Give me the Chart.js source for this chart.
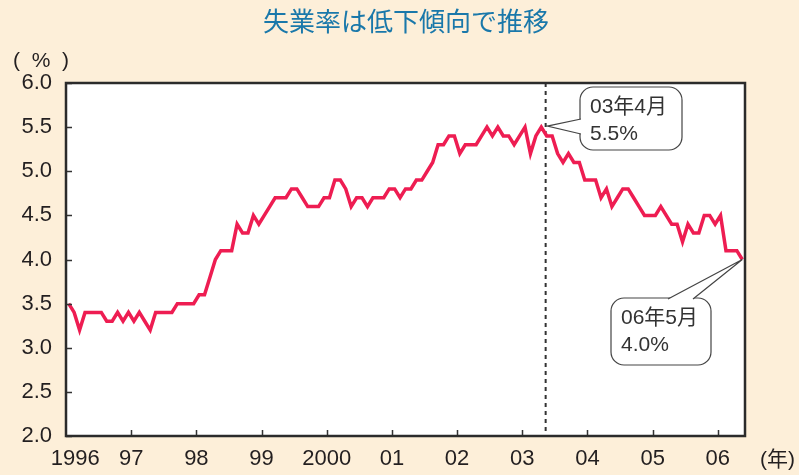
<!DOCTYPE html>
<html>
<head>
<meta charset="utf-8">
<script src="https://cdn.jsdelivr.net/npm/chart.js@4.4.0/dist/chart.umd.min.js"></script>
<style>
html, body { margin: 0; padding: 0; background: #fdefd9; }
#wrap { width: 799px; height: 475px; }
</style>
</head>
<body>
<div id="wrap"><canvas id="myChart" width="799" height="475"></canvas></div>
<script>
// 完全失業率（季節調整値）1996年1月〜2006年5月, 月次
var yearLabels = ['1996', '97', '98', '99', '2000', '01', '02', '03', '04', '05', '06'];
var rates = [
    3.5, 3.4, 3.2, 3.4, 3.4, 3.4, 3.4, 3.3, 3.3, 3.4, 3.3, 3.4,   // 1996
    3.3, 3.4, 3.3, 3.2, 3.4, 3.4, 3.4, 3.4, 3.5, 3.5, 3.5, 3.5,   // 97
    3.6, 3.6, 3.8, 4.0, 4.1, 4.1, 4.1, 4.4, 4.3, 4.3, 4.5, 4.4,   // 98
    4.5, 4.6, 4.7, 4.7, 4.7, 4.8, 4.8, 4.7, 4.6, 4.6, 4.6, 4.7,   // 99
    4.7, 4.9, 4.9, 4.8, 4.6, 4.7, 4.7, 4.6, 4.7, 4.7, 4.7, 4.8,   // 2000
    4.8, 4.7, 4.8, 4.8, 4.9, 4.9, 5.0, 5.1, 5.3, 5.3, 5.4, 5.4,   // 01
    5.2, 5.3, 5.3, 5.3, 5.4, 5.5, 5.4, 5.5, 5.4, 5.4, 5.3, 5.4,   // 02
    5.5, 5.2, 5.4, 5.5, 5.4, 5.4, 5.2, 5.1, 5.2, 5.1, 5.1, 4.9,   // 03
    4.9, 4.9, 4.7, 4.8, 4.6, 4.7, 4.8, 4.8, 4.7, 4.6, 4.5, 4.5,   // 04
    4.5, 4.6, 4.5, 4.4, 4.4, 4.2, 4.4, 4.3, 4.3, 4.5, 4.5, 4.4,   // 05
    4.5, 4.1, 4.1, 4.1, 4.0                                       // 06
];
var yTicks = [2.0, 2.5, 3.0, 3.5, 4.0, 4.5, 5.0, 5.5, 6.0];
var peakIdx = 87;        // 03年4月
var peakText = ['03年4月', '5.5%'];
var lastIdx = 124;       // 06年5月
var lastText = ['06年5月', '4.0%'];
var markerMonth = 88.3;  // 点線の位置（月）

var FONT = "'Liberation Sans', Arial, 'Noto Sans CJK JP', sans-serif";
var INK = '#231f20';

var points = rates.map(function (v, i) { return { x: i + 0.5, y: v }; });

function callout(ctx, box, base, tip, lines) {
    ctx.save();
    ctx.beginPath();
    ctx.roundRect(box.x, box.y, box.w, box.h, 13);
    ctx.fillStyle = '#fff';
    ctx.fill();
    ctx.strokeStyle = '#444';
    ctx.lineWidth = 1.2;
    ctx.stroke();
    // 吹き出しの三角
    ctx.beginPath();
    ctx.moveTo(base[0][0], base[0][1]);
    ctx.lineTo(tip[0], tip[1]);
    ctx.lineTo(base[1][0], base[1][1]);
    ctx.closePath();
    ctx.fillStyle = '#fff';
    ctx.fill();
    ctx.beginPath();
    ctx.moveTo(base[0][0], base[0][1]);
    ctx.lineTo(tip[0], tip[1]);
    ctx.lineTo(base[1][0], base[1][1]);
    ctx.stroke();
    ctx.fillStyle = '#333';
    ctx.font = '21px ' + FONT;
    ctx.textAlign = 'left';
    ctx.textBaseline = 'middle';
    ctx.fillText(lines[0], box.x + 10, box.y + 20);
    ctx.fillText(lines[1], box.x + 10, box.y + 47);
    ctx.restore();
}

var decor = {
    id: 'decor',
    beforeDraw: function (chart) {
        var ctx = chart.ctx, a = chart.chartArea;
        ctx.save();
        ctx.fillStyle = '#fdefd9';
        ctx.fillRect(0, 0, chart.width, chart.height);
        ctx.fillStyle = '#fff';
        ctx.fillRect(a.left, a.top, a.right - a.left, a.bottom - a.top);
        ctx.restore();
    },
    beforeDatasetsDraw: function (chart) {
        var ctx = chart.ctx, a = chart.chartArea;
        var x = chart.scales.x.getPixelForValue(markerMonth);
        ctx.save();
        ctx.strokeStyle = '#333';
        ctx.lineWidth = 2;
        ctx.setLineDash([4, 4]);
        ctx.beginPath();
        ctx.moveTo(x, a.top);
        ctx.lineTo(x, a.bottom);
        ctx.stroke();
        ctx.restore();
    },
    afterDraw: function (chart) {
        var ctx = chart.ctx, a = chart.chartArea;
        var xs = chart.scales.x, ys = chart.scales.y;
        ctx.save();
        // 内向きの目盛
        ctx.strokeStyle = '#333';
        ctx.lineWidth = 1.5;
        ctx.beginPath();
        yTicks.forEach(function (v) {
            var y = Math.round(ys.getPixelForValue(v)) + 0.5;
            ctx.moveTo(a.left, y);
            ctx.lineTo(a.left + 6, y);
        });
        for (var m = 12; m < yearLabels.length * 12; m += 12) {
            var x = Math.round(xs.getPixelForValue(m)) + 0.5;
            ctx.moveTo(x, a.bottom);
            ctx.lineTo(x, a.bottom - 6);
        }
        ctx.stroke();
        // 枠
        ctx.strokeStyle = '#2b2b2b';
        ctx.lineWidth = 2.5;
        ctx.strokeRect(a.left, a.top, a.right - a.left, a.bottom - a.top);

        // タイトルと単位
        ctx.fillStyle = '#1a78aa';
        ctx.font = "26px 'Noto Sans CJK JP', sans-serif";
        ctx.textAlign = 'center';
        ctx.textBaseline = 'middle';
        ctx.fillText('失業率は低下傾向で推移', 406, 21);
        ctx.fillStyle = INK;
        ctx.font = '21px ' + FONT;
        ctx.textAlign = 'left';
        ctx.fillText('(  %  )', 13, 61);
        ctx.fillText('(年)', 760, 460);
        ctx.restore();

        var px = xs.getPixelForValue(peakIdx + 0.5), py = ys.getPixelForValue(rates[peakIdx]);
        callout(ctx, { x: 580, y: 87, w: 102, h: 63 },
            [[581, 119], [581, 134]], [px + 6, py - 1], peakText);
        var lx = xs.getPixelForValue(lastIdx + 0.5), ly = ys.getPixelForValue(rates[lastIdx]);
        callout(ctx, { x: 611, y: 298, w: 100, h: 67 },
            [[668, 299], [693, 299]], [lx, ly], lastText);
    }
};

var ctx = document.getElementById('myChart');
var myChart = new Chart(ctx, {
    type: 'line',
    data: {
        datasets: [{
            label: '失業率',
            data: points,
            borderColor: '#ee1d52',
            borderWidth: 3.5,
            pointRadius: 0,
            fill: false,
            tension: 0
        }]
    },
    options: {
        responsive: false,
        animation: false,
        events: [],
        layout: { padding: { top: 83, right: 54, left: 0, bottom: 0 } },
        plugins: {
            legend: { display: false },
            tooltip: { enabled: false }
        },
        scales: {
            x: {
                type: 'linear',
                min: 0,
                max: rates.length,
                afterFit: function (s) { s.height = 39; },
                afterBuildTicks: function (s) {
                    s.ticks = yearLabels.map(function (y, i) { return { value: i * 12 }; });
                },
                grid: { display: false, drawTicks: false },
                border: { display: false },
                ticks: {
                    autoSkip: false,
                    maxRotation: 0,
                    padding: 10,
                    color: INK,
                    font: { family: FONT, size: 22 },
                    callback: function (v) {
                        return (v === 0 ? '   ' : '') + yearLabels[v / 12];
                    }
                }
            },
            y: {
                min: 2,
                max: 6,
                afterFit: function (s) { s.width = 66; },
                grid: { display: false, drawTicks: false },
                border: { display: false },
                ticks: {
                    stepSize: 0.5,
                    padding: 14,
                    color: INK,
                    font: { family: FONT, size: 22 },
                    callback: function (v) { return v.toFixed(1); }
                }
            }
        }
    },
    plugins: [decor]
});
</script>
</body>
</html>
